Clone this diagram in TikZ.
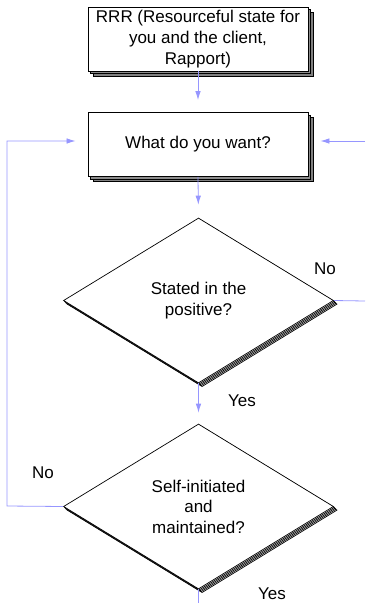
\documentclass[tikz,border=0pt]{standalone}
\usepackage{fontspec}
\setmainfont{Liberation Sans}
\usetikzlibrary{shapes.geometric,shadows,arrows.meta}
\definecolor{conn}{RGB}{150,150,255}
\tikzset{
  txt/.style={font=\fontsize{17}{20.5}\selectfont, align=center},
  procbox/.style={txt, rectangle, draw=black, line width=0.9pt, fill=white,
    minimum width=220pt, minimum height=64pt, inner sep=0pt,
    copy shadow={shadow xshift=5pt, shadow yshift=-5pt, fill=black!50, draw=black, line width=0.8pt},
    copy shadow={shadow xshift=2.5pt, shadow yshift=-2.5pt, fill=black!45, draw=black, line width=0.8pt}},
  decision/.style={txt, diamond, draw=black, line width=0.7pt, fill=white,
    minimum width=270pt, minimum height=165pt, inner sep=0pt,
    copy shadow={shadow xshift=3.6pt, shadow yshift=-3.6pt, fill=white, draw=black, line width=0.7pt},
    copy shadow={shadow xshift=2.7pt, shadow yshift=-2.7pt, fill=white, draw=black, line width=0.7pt},
    copy shadow={shadow xshift=1.8pt, shadow yshift=-1.8pt, fill=white, draw=black, line width=0.7pt},
    copy shadow={shadow xshift=0.9pt, shadow yshift=-0.9pt, fill=white, draw=black, line width=0.7pt}},
  conline/.style={draw=conn, line width=0.8pt},
  conarrow/.style={conline, -{Latex[length=9pt,width=5.5pt]}},
  lbl/.style={txt, inner sep=0pt}
}
\begin{document}
\begin{tikzpicture}[x=1pt,y=-1pt]
\useasboundingbox (0,0) rectangle (365,603);
\node[procbox] (rrr) at (198,39) {\raisebox{-3pt}{\fontsize{17}{21}\selectfont\begin{tabular}{@{}c@{}}RRR (Resourceful state for\\you and the client,\\Rapport)\end{tabular}}};
\node[procbox] (want) at (198,144.5) {What do you want?};
\node[decision] (d1) at (198.5,300.5) {Stated in the\\positive?};
\node[decision] (d2) at (198.5,506.5) {Self-initiated\\and\\maintained?};

\coordinate (r1) at (365,301);
\coordinate (r2) at (365,141);
\coordinate (l1) at (7,506);
\coordinate (l2) at (7,141);
\coordinate (bot) at (198.5,603);

\draw[conarrow, shorten >=12pt] (rrr.south) -- (want.north);
\draw[conarrow, shorten >=13pt] (want.south) -- (d1.north);
\draw[conarrow, shorten >=11pt] (d1.south) -- (d2.north);
\draw[conline] (d1.east) -- (r1);
\draw[conarrow, shorten >=12pt] (r2) -- (r2 -| want.east);
\draw[conarrow, shorten >=12pt] (d2.west) -- (l1) -- (l2) -- (l2 -| want.west);
\draw[conline] (d2.south) -- (bot);

\node[lbl] (no1) at (325,269) {No};
\node[lbl] (yes1) at (242,401) {Yes};
\node[lbl] (no2) at (43,473) {No};
\node[lbl] (yes2) at (272,594) {Yes};
\end{tikzpicture}
\end{document}
